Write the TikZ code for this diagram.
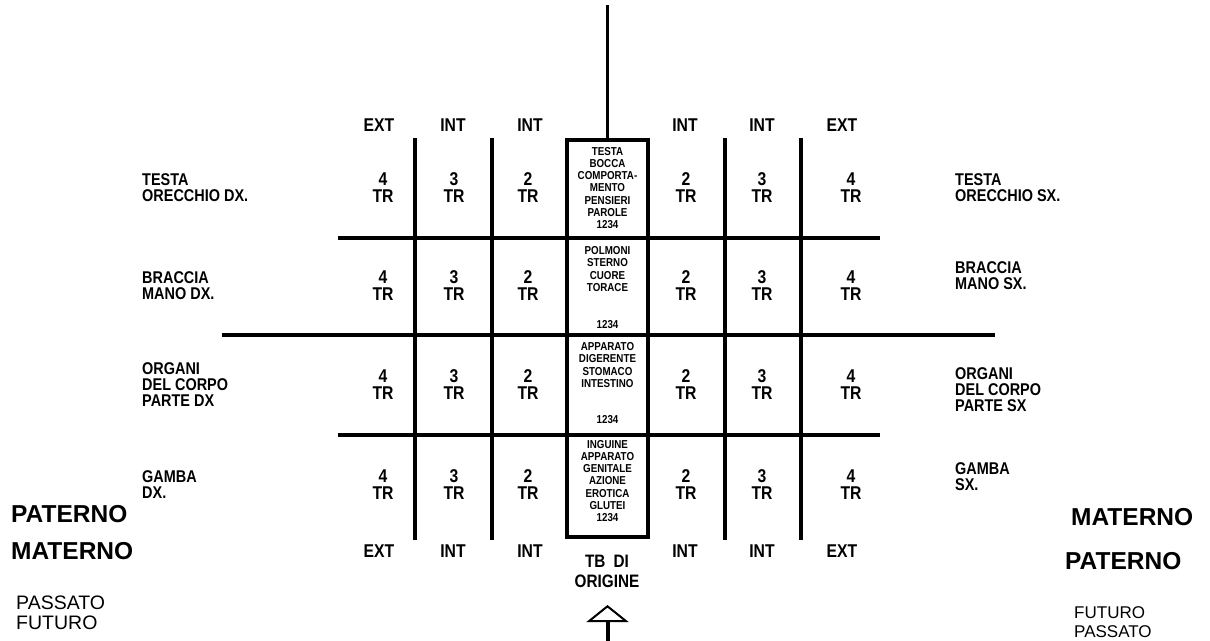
\documentclass[tikz,border=0pt]{standalone}
\usepackage{fontspec}
\setmainfont{Liberation Sans}
\newfontfamily\cad[FakeStretch=0.85]{Liberation Sans}
\usetikzlibrary{arrows.meta}
\tikzset{
  gridline/.style={line width=4pt},
  hdr/.style={font=\cad\bfseries\fontsize{18.5}{18.5}\selectfont, inner sep=0pt},
  num/.style={font=\cad\bfseries\fontsize{18.5}{17}\selectfont, inner sep=0pt, align=center},
  lab/.style={font=\cad\bfseries\fontsize{17}{16}\selectfont, inner sep=0pt, align=left, anchor=west},
  tiny/.style={font=\cad\bfseries\fontsize{11.5}{12.3}\selectfont, inner sep=0pt, align=center},
  big/.style={font=\bfseries\fontsize{24.5}{24.5}\selectfont, inner sep=0pt, anchor=west},
  small/.style={font=\fontsize{19.5}{19.5}\selectfont, inner sep=0pt, align=left, anchor=west},
}
\begin{document}
\begin{tikzpicture}[x=1pt,y=-1pt]
\useasboundingbox (0,0) rectangle (1210,640);
% grid
\draw[gridline] (415,138) -- (415,540);
\draw[gridline] (492,138) -- (492,540);
\draw[gridline] (725,138) -- (725,540);
\draw[gridline] (801,138) -- (801,540);
\draw[gridline] (338,238) -- (880,238);
\draw[gridline] (222,335) -- (995,335);
\draw[gridline] (338,435) -- (880,435);
% centre box
\node[draw, line width=4pt, minimum width=81pt, minimum height=397pt, inner sep=0pt] (box) at (607.5,338.5) {};
\coordinate (top) at (607.5,5);
\draw[line width=3pt] (top) -- (box.north);
% headers
\foreach \x/\t [count=\i] in {379/EXT,453/INT,530/INT,685/INT,762/INT,842/EXT}{
  \node[hdr] (ht\i) at (\x,125) {\t};
  \node[hdr] (hb\i) at (\x,551) {\t};
}
% numbers
\foreach \y [count=\r] in {188,286,385,485}{
  \foreach \x/\n [count=\c] in {383/4,454/3,528/2,686/2,762/3,851/4}{
    \node[num] (n\r\c) at (\x,\y) {\n\\TR};
  }
}
% centre texts
\node[tiny] (c1) at (607.5,188) {TESTA\\BOCCA\\COMPORTA-\\MENTO\\PENSIERI\\PAROLE\\1234};
\node[tiny] (c2) at (607.5,269) {POLMONI\\STERNO\\CUORE\\TORACE};
\node[tiny] (c2n) at (607.5,325) {1234};
\node[tiny] (c3) at (607.5,365) {APPARATO\\DIGERENTE\\STOMACO\\INTESTINO};
\node[tiny] (c3n) at (607.5,420) {1234};
\node[tiny] (c4) at (607.5,481) {INGUINE\\APPARATO\\GENITALE\\AZIONE\\EROTICA\\GLUTEI\\1234};
% left labels
\node[lab] (l1) at (142,188) {TESTA\\ORECCHIO DX.};
\node[lab] (l2) at (142,286) {BRACCIA\\MANO DX.};
\node[lab] (l3) at (142,385) {ORGANI\\DEL CORPO\\PARTE DX};
\node[lab] (l4) at (142,485) {GAMBA\\DX.};
% right labels
\node[lab] (r1) at (955,188) {TESTA\\ORECCHIO SX.};
\node[lab] (r2) at (955,276) {BRACCIA\\MANO SX.};
\node[lab] (r3) at (955,390) {ORGANI\\DEL CORPO\\PARTE SX};
\node[lab] (r4) at (955,477) {GAMBA\\SX.};
% side words
\node[big] (pl) at (11,514) {PATERNO};
\node[big] (ml) at (11,551) {MATERNO};
\node[small] (tl) at (16,613) {PASSATO\\FUTURO};
\node[big] (mr) at (1071,517) {MATERNO};
\node[big] (pr) at (1065,561) {PATERNO};
\node[small, font=\fontsize{17}{19}\selectfont] (tr) at (1074,622.5) {FUTURO\\PASSATO};
% origin
\node[num, font=\cad\bfseries\fontsize{18}{20}\selectfont] (orig) at (607,571) {TB\hspace{0.45em}DI\\ORIGINE};
\coordinate (arrfoot) at (607.5,642);
\coordinate (arrtip) at (607.5,605);
\draw[line width=4pt, -{Triangle[open, width=42pt, length=17pt, line width=2pt]}] (arrfoot) -- (arrtip);
\end{tikzpicture}
\end{document}
